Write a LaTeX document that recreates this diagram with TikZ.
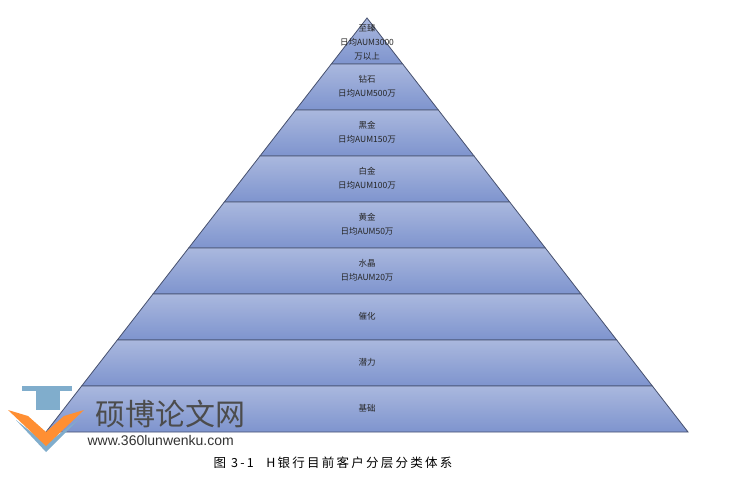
\documentclass[tikz,border=0pt]{standalone}
\usepackage{fontspec}
\setmainfont{Liberation Sans}
\newfontfamily\cjk{Noto Sans CJK SC}
\newfontfamily\cjkwide[LetterSpace=18]{Noto Sans CJK SC}
\definecolor{bandtop}{RGB}{170,184,222}
\definecolor{bandbot}{RGB}{126,148,206}
\definecolor{bandline}{RGB}{70,80,110}
\tikzset{band/.style={draw=bandline, line width=0.8pt, top color=bandtop, bottom color=bandbot},
  lbl/.style={font=\cjk\fontsize{8.5}{14}\selectfont, align=center, text=black!85}}
\begin{document}
\begin{tikzpicture}[x=1pt, y=-1pt]
\useasboundingbox (0,0) rectangle (733,478);
% pyramid bands
\foreach \t/\b in {18/64,64/110,110/156,156/202,202/248,248/294,294/340,340/386,386/432}{
  \pgfmathsetmacro{\wt}{(\t-18)*0.7754}
  \pgfmathsetmacro{\wb}{(\b-18)*0.7754}
  \draw[band] (367-\wt,\t) -- (367+\wt,\t) -- (367+\wb,\b) -- (367-\wb,\b) -- cycle;
}
\node[lbl] (zhizhen) at (367,42) {至臻\\日均AUM3000\\万以上};
\node[lbl] (zuanshi) at (367,86) {钻石\\日均AUM500万};
\node[lbl] (heijin) at (367,132) {黑金\\日均AUM150万};
\node[lbl] (baijin) at (367,178) {白金\\日均AUM100万};
\node[lbl] (huangjin) at (367,224) {黄金\\日均AUM50万};
\node[lbl] (shuijing) at (367,270) {水晶\\日均AUM20万};
\node[lbl] (cuihua) at (367,316) {催化};
\node[lbl] (qianli) at (367,362) {潜力};
\node[lbl] (jichu) at (367,408) {基础};
% watermark
\fill[blue!40!cyan!60!black!50] (22,386) rectangle (72,391);
\fill[blue!40!cyan!60!black!50] (36,391) rectangle (60,410);
\fill[blue!40!cyan!60!black!50] (16,420) -- (46,452) -- (78,420) -- (46,444) -- cycle;
\fill[orange!90!red!80] (8,410) -- (46,446) -- (84,410) -- (64,416) -- (46,432) -- (28,416) -- cycle;
\node[font=\cjk\fontsize{30}{30}\selectfont, text=black!70, anchor=west] (wm) at (92,414) {硕博论文网};
\node[font=\fontsize{14}{14}\selectfont, text=black!80, anchor=west] (url) at (84,440) {www.360lunwenku.com};
% caption
\node[font=\cjkwide\fontsize{12.5}{14}\selectfont, anchor=west] (caption) at (210,463) {图 3-1\quad H银行目前客户分层分类体系};
\end{tikzpicture}
\end{document}
